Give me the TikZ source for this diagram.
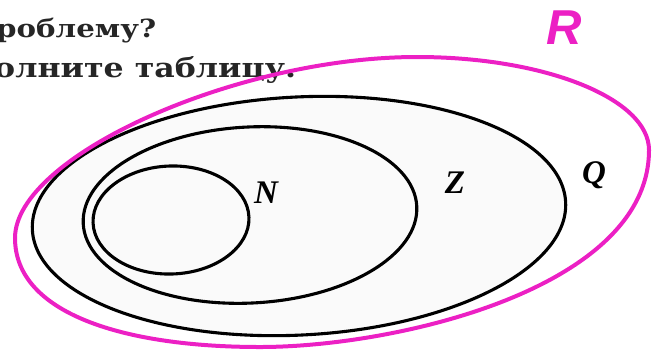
\documentclass[tikz,border=0pt]{standalone}
\usepackage{fontspec}
\setmainfont{DejaVu Serif}
\newfontfamily\labfont{Liberation Serif}
\newfontfamily\rfont{Liberation Sans}
\definecolor{mag}{RGB}{236,32,196}
\tikzset{
  setline/.style={draw=black, line width=3.1pt},
  rline/.style={draw=mag, line width=4pt},
  setlabel/.style={font=\labfont\bfseries\itshape\fontsize{33}{33}\selectfont, inner sep=0pt},
  bodytext/.style={font=\bfseries, inner sep=0pt, anchor=base west, text=black!85}
}
\begin{document}
\begin{tikzpicture}[x=1pt,y=-1pt]
\useasboundingbox (0,0) rectangle (652,349);
% text lines
\node[bodytext] (l1) at (-4,37) {\scalebox{1.17}[1]{\fontsize{25}{25}\selectfont роблему?}};
\node[bodytext] (l2) at (-6,77) {\scalebox{1.17}[1]{\fontsize{27}{27}\selectfont олните таблицу.}};
% sets
\fill[black!2, rotate around={3:(299,216)}] (299,216) ellipse [x radius=267, y radius=119];
\draw[setline, rotate around={3:(299,216)}] (299,216) ellipse [x radius=267, y radius=119];
\draw[setline, rotate around={3:(250,215)}] (250,215) ellipse [x radius=167, y radius=88];
\draw[setline, rotate around={2:(171,220)}] (171,220) ellipse [x radius=78, y radius=54];
% R outline
\draw[rline] (15,238) .. controls (15,156.5) and (236,57) .. (417,57)
  .. controls (545.7,57) and (649,99) .. (649,150)
  .. controls (649,288) and (397,347) .. (260,347)
  .. controls (125,347) and (15,314) .. cycle;
% labels
\node[setlabel] (n) at (266,193) {N};
\node[setlabel] (z) at (455,183) {Z};
\node[setlabel] (q) at (594,175) {Q};
\node[font=\rfont\bfseries\itshape\fontsize{49}{49}\selectfont, text=mag, inner sep=0pt] (r) at (564,28) {R};
\end{tikzpicture}
\end{document}
